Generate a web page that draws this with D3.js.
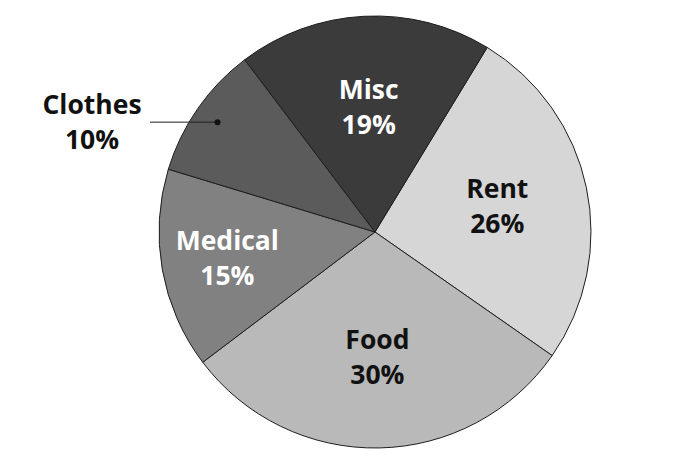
<!DOCTYPE html>
<html>
<head>
<meta charset="utf-8">
<script src="https://cdn.jsdelivr.net/npm/d3@7"></script>
<style>
  body { margin: 0; background: #fff; }
  svg { display: block; }
</style>
</head>
<body>
<div id="chart"></div>
<script>
// budget shares, clockwise starting from Rent
const categories = ['Rent', 'Food', 'Medical', 'Clothes', 'Misc']
const shares = [26, 30, 15, 10, 19]
const fills = ['#d6d6d6', '#b9b9b9', '#818181', '#5b5b5b', '#3b3b3b']
const textColors = ['#111', '#111', '#fff', '#111', '#fff']

const width = 688
const height = 474
const cx = 375, cy = 232
const radius = 216

const data = categories.map((c, i) => ({ cat: c, value: shares[i] }))

const svg = d3.select('#chart').append('svg')
  .attr('width', width)
  .attr('height', height)

const g = svg.append('g')
  .attr('transform', `translate(${cx}, ${cy})`)

// pie layout - Rent starts a bit right of twelve o'clock
const startAngle = 31.3 * Math.PI / 180
const pie = d3.pie()
  .value(d => d.value)
  .sort(null)
  .startAngle(startAngle)
  .endAngle(startAngle + 2 * Math.PI)

const arcs = pie(data)

const arc = d3.arc().innerRadius(0).outerRadius(radius)

g.selectAll('path.slice')
  .data(arcs)
  .join('path')
    .attr('class', 'slice')
    .attr('d', arc)
    .attr('fill', (d, i) => fills[i])
    .attr('stroke', '#1e1e1e')
    .attr('stroke-width', 1)

// label point along the middle of the slice
const labelPoint = (d, r) => {
  const a = (d.startAngle + d.endAngle) / 2
  return [Math.sin(a) * r, -Math.cos(a) * r]
}
const labelRadius = d => d.data.cat === 'Medical' ? 150 : 125
const fontSize = '26.5px'

const inside = arcs.filter(d => d.data.cat !== 'Clothes')
const labels = g.selectAll('text.lbl')
  .data(inside)
  .join('text')
    .attr('class', 'lbl')
    .attr('text-anchor', 'middle')
    .style('font-family', '"Open Sans", sans-serif')
    .style('font-weight', 'bold')
    .style('font-size', fontSize)
    .attr('fill', d => textColors[categories.indexOf(d.data.cat)])

labels.each(function(d) {
  const [x, y] = labelPoint(d, labelRadius(d))
  const t = d3.select(this)
  t.append('tspan').attr('x', x).attr('y', y - 8).text(d.data.cat)
  t.append('tspan').attr('x', x).attr('y', y + 27).text(d.data.value + '%')
})

// Clothes is labelled outside with a leader line
const clothes = arcs.find(d => d.data.cat === 'Clothes')
const [dx, dy] = labelPoint(clothes, 192)
const lineEnd = 150 - cx
g.append('line')
  .attr('x1', dx).attr('y1', dy)
  .attr('x2', lineEnd).attr('y2', dy)
  .attr('stroke', '#1e1e1e')
  .attr('stroke-width', 1)
g.append('circle')
  .attr('cx', dx).attr('cy', dy)
  .attr('r', 3)
  .attr('fill', '#111')

const ct = g.append('text')
  .attr('text-anchor', 'middle')
  .style('font-family', '"Open Sans", sans-serif')
  .style('font-weight', 'bold')
  .style('font-size', fontSize)
  .attr('fill', '#111')
ct.append('tspan').attr('x', 92 - cx).attr('y', dy - 8).text(clothes.data.cat)
ct.append('tspan').attr('x', 92 - cx).attr('y', dy + 27).text(clothes.data.value + '%')
</script>
</body>
</html>
